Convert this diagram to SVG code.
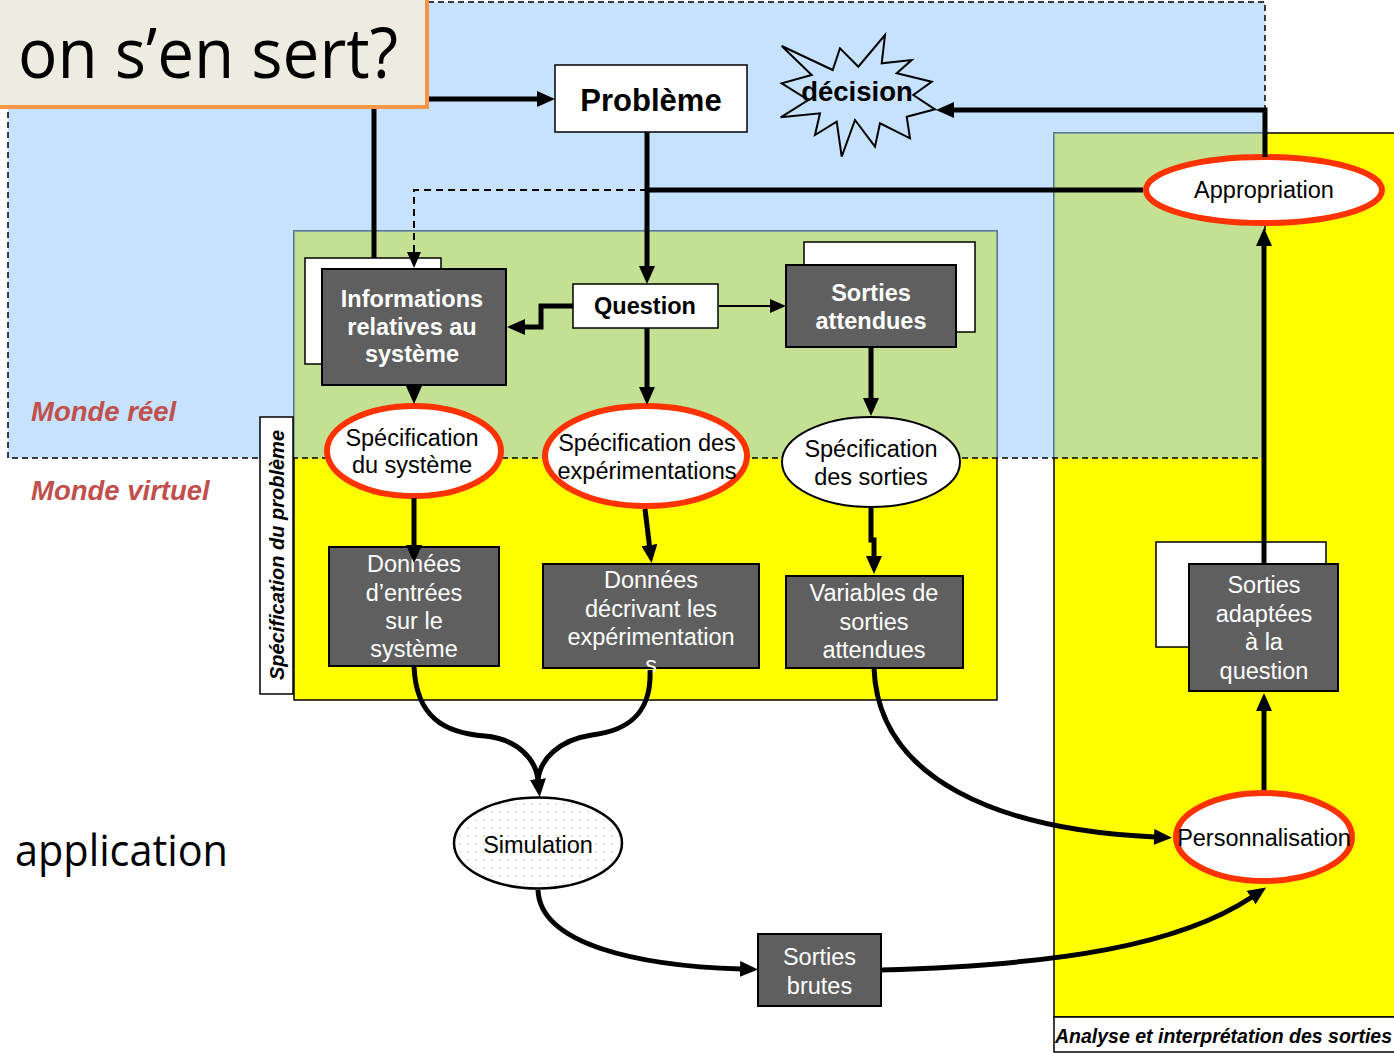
<svg xmlns="http://www.w3.org/2000/svg" width="1394" height="1055" viewBox="0 0 1394 1055">
<style>
.t{font-family:"Liberation Sans",Arial,sans-serif;font-size:23.5px;text-anchor:middle;fill:#000}
.w{fill:#fff}
.b{font-weight:bold}
.dark{fill:#5F5F5F;stroke:#000;stroke-width:2}
.box{fill:#fff;stroke:#000;stroke-width:1.5}
.red{fill:#fff;stroke:#FF3300;stroke-width:6}
.c{fill:none;stroke:#000;stroke-width:5}
.thin{fill:none;stroke:#000;stroke-width:2}
.monde{font-family:"Liberation Sans",Arial,sans-serif;font-size:27.5px;font-weight:bold;font-style:italic;fill:#C0504D}
.cal{font-family:"Open Sans","Liberation Sans",sans-serif;fill:#000}
</style>
<defs>
<marker id="ah" viewBox="0 0 18 16" refX="1" refY="8" markerWidth="18" markerHeight="16" markerUnits="userSpaceOnUse" orient="auto"><path d="M0,0 L18,8 L0,16 z" fill="#000"/></marker>
<marker id="ahs" viewBox="0 0 16 14" refX="1" refY="7" markerWidth="16" markerHeight="14" markerUnits="userSpaceOnUse" orient="auto"><path d="M0,0 L16,7 L0,14 z" fill="#000"/></marker>
<pattern id="dots" width="8" height="8" patternUnits="userSpaceOnUse"><rect width="8" height="8" fill="#fff"/><circle cx="4" cy="4" r="0.9" fill="#DDD9C3"/></pattern>
</defs>

<g id="backgrounds">
<rect x="8" y="2" width="1257" height="456" fill="#C6E2FF"/>
<rect x="294" y="231" width="703" height="469" fill="#FFFF00" stroke="#000" stroke-width="1.5"/>
<rect x="294" y="231" width="703" height="227" fill="#C4E092"/>
<path d="M294,458 V231 H997 V458" fill="none" stroke="#6A8AAA" stroke-width="1.5"/>
<rect x="1054" y="133" width="345" height="884" fill="#FFFF00" stroke="#000" stroke-width="1.5"/>
<rect x="1054" y="133" width="211" height="325" fill="#C4E092"/>
<path d="M1054,458 V133 H1265" fill="none" stroke="#6A8AAA" stroke-width="1.5"/>
<rect x="8" y="2" width="1257" height="456" fill="none" stroke="#000" stroke-width="1.5" stroke-dasharray="6 4"/>
</g>

<g id="label-spec-probleme">
<rect x="260" y="417" width="33" height="277" fill="#fff" stroke="#000" stroke-width="1.5"/>
<text class="t b" style="font-size:20px;font-style:italic" transform="translate(284,555) rotate(-90)">Spécification du problème</text>
</g>
<g id="label-analyse">
<rect x="1054" y="1017" width="345" height="35" fill="#fff" stroke="#000" stroke-width="1.5"/>
<text x="1055" y="1043" font-family="Liberation Sans, Arial, sans-serif" font-size="19.5" font-weight="bold" font-style="italic">Analyse et interprétation des sorties</text>
</g>

<text class="monde" x="31" y="421">Monde réel</text>
<text class="monde" x="31" y="500">Monde virtuel</text>
<text class="cal" x="15" y="866" font-size="44" textLength="213" lengthAdjust="spacingAndGlyphs">application</text>

<g id="node-probleme">
<rect class="box" x="555" y="65" width="192" height="67"/>
<text class="t b" x="651" y="111" style="font-size:31px">Problème</text>
</g>
<g id="node-decision">
<polygon points="781.7,46 832.7,70 840,48.3 858.3,66.7 885,35 881.7,63.3 911.7,60 896.7,73.3 931.7,81.7 913.3,95 935,109.3 906.7,116.7 910,138.3 880,123.3 875,146.7 855,120 841.7,156.7 836.7,121.7 815,135 820,113.3 780.7,117.3 808.3,100 781.7,83.3 811.7,75" fill="#C6E2FF" stroke="#000" stroke-width="2"/>
<text class="t b" x="857" y="101" style="font-size:27.5px">décision</text>
</g>
<g id="node-informations">
<rect class="box" x="305" y="258" width="136" height="106"/>
<rect class="dark" x="322" y="269" width="184" height="116"/>
<text class="t b w" x="412" y="307">Informations</text>
<text class="t b w" x="412" y="335">relatives au</text>
<text class="t b w" x="412" y="362">système</text>
</g>
<g id="node-question">
<rect class="box" x="573" y="284" width="145" height="44"/>
<text class="t b" x="645" y="314">Question</text>
</g>
<g id="node-sorties-attendues">
<rect class="box" x="804" y="242" width="171" height="90"/>
<rect class="dark" x="786" y="265" width="170" height="82"/>
<text class="t b w" x="871" y="301">Sorties</text>
<text class="t b w" x="871" y="329">attendues</text>
</g>
<g id="node-spec-systeme">
<ellipse class="red" cx="414" cy="451" rx="87" ry="45"/>
<text class="t" x="412" y="446">Spécification</text>
<text class="t" x="412" y="473">du système</text>
</g>
<g id="node-spec-experimentations">
<ellipse class="red" cx="646" cy="456" rx="101" ry="50"/>
<text class="t" x="647" y="451">Spécification des</text>
<text class="t" x="647" y="479">expérimentations</text>
</g>
<g id="node-spec-sorties">
<ellipse cx="871" cy="462" rx="89" ry="45" fill="#fff" stroke="#000" stroke-width="2"/>
<text class="t" x="871" y="457">Spécification</text>
<text class="t" x="871" y="485">des sorties</text>
</g>
<g id="node-donnees-entrees">
<rect class="dark" x="329" y="547" width="170" height="119"/>
<text class="t w" x="414" y="572">Données</text>
<text class="t w" x="414" y="600.5">d’entrées</text>
<text class="t w" x="414" y="629">sur le</text>
<text class="t w" x="414" y="657">système</text>
</g>
<g id="node-donnees-experimentations">
<rect class="dark" x="543" y="564" width="216" height="104"/>
<text class="t w" x="651" y="588">Données</text>
<text class="t w" x="651" y="617">décrivant les</text>
<text class="t w" x="651" y="645">expérimentation</text>
<text class="t w" x="651" y="673">s</text>
</g>
<g id="node-variables">
<rect class="dark" x="786" y="576" width="177" height="92"/>
<text class="t w" x="874" y="601">Variables de</text>
<text class="t w" x="874" y="630">sorties</text>
<text class="t w" x="874" y="658">attendues</text>
</g>
<g id="node-simulation">
<ellipse cx="538" cy="843" rx="84" ry="45.5" fill="url(#dots)" stroke="#000" stroke-width="2.5"/>
<text class="t" x="538" y="852.5">Simulation</text>
</g>
<g id="node-sorties-brutes">
<rect class="dark" x="758" y="934" width="123" height="72"/>
<text class="t w" x="819.5" y="965">Sorties</text>
<text class="t w" x="819.5" y="994">brutes</text>
</g>
<g id="node-personnalisation">
<ellipse class="red" cx="1264" cy="837" rx="88" ry="44"/>
<text class="t" x="1264" y="846">Personnalisation</text>
</g>
<g id="node-sorties-adaptees">
<rect class="box" x="1156" y="542" width="170" height="105"/>
<rect class="dark" x="1189" y="564" width="149" height="127"/>
<text class="t w" x="1264" y="593">Sorties</text>
<text class="t w" x="1264" y="621.5">adaptées</text>
<text class="t w" x="1264" y="650">à la</text>
<text class="t w" x="1264" y="678.5">question</text>
</g>
<g id="node-appropriation">
<ellipse class="red" cx="1264" cy="190" rx="118" ry="33"/>
<text class="t" x="1264" y="198">Appropriation</text>
</g>

<g id="connectors">
<path class="c" d="M374,258 V99 H538" marker-end="url(#ah)"/>
<path class="c" d="M647,132 V267" marker-end="url(#ah)"/>
<path class="c" d="M1143,190 H647"/>
<path class="thin" d="M647,190 H414 V253" stroke-dasharray="7 5" marker-end="url(#ahs)"/>
<path class="c" d="M573,306 H541 V327 H524" marker-end="url(#ah)"/>
<path class="thin" d="M719,306 H771" marker-end="url(#ahs)"/>
<path class="c" d="M414,385 V387" marker-end="url(#ah)"/>
<path class="c" d="M647,328 V388" marker-end="url(#ah)"/>
<path class="c" d="M871,347 V399" marker-end="url(#ah)"/>
<path class="c" d="M414,498 V546" marker-end="url(#ah)"/>
<path class="c" d="M645,509 L649.5,546" marker-end="url(#ah)"/>
<path class="c" d="M871,508 V540 H874 V557" marker-end="url(#ah)"/>
<path class="c" d="M414,666 C416,718 445,733 485,736 C518,739 536,760 538,780" marker-end="url(#ah)"/>
<path class="c" d="M650,670 C652,716 625,731 592,735 C558,740 540,760 538,780"/>
<path class="c" d="M538,890 C540,945 640,966 741,969" marker-end="url(#ah)"/>
<path class="c" d="M874,668 C878,780 1000,830 1155,837" marker-end="url(#ah)"/>
<path class="c" d="M881,970 C1060,965 1180,945 1252,897" marker-end="url(#ah)"/>
<path class="c" d="M1264,790 V710" marker-end="url(#ah)"/>
<path class="c" d="M1264,564 V245" marker-end="url(#ah)"/>
<path class="c" d="M1265,157 V110 H953" marker-end="url(#ah)"/>
</g>

<g id="title">
<rect x="-4" y="-4" width="431" height="111" fill="#EEECE1" stroke="#F79646" stroke-width="4"/>
<text class="cal" x="18" y="78" font-size="70" textLength="380" lengthAdjust="spacingAndGlyphs">on s’en sert?</text>
</g>
</svg>
